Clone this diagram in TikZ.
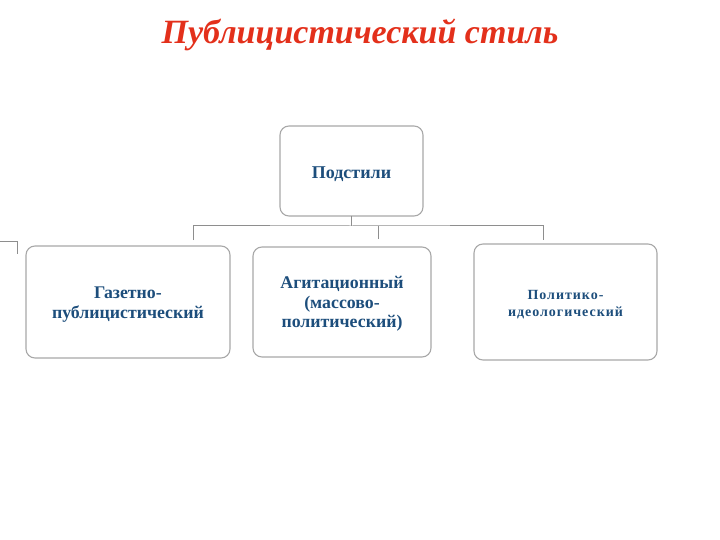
\documentclass[tikz,border=0pt]{standalone}
\usepackage{fontspec}
\setmainfont{Liberation Serif}
\definecolor{titlered}{HTML}{E3301B}
\definecolor{txtblue}{HTML}{1D4E7C}
\definecolor{boxgray}{HTML}{A8A8A8}
\definecolor{linegray}{HTML}{8E8E8E}
\begin{document}
\begin{tikzpicture}[x=1pt,y=-1pt,
  box/.style={draw=boxgray,line width=1.1pt,rounded corners=9pt,fill=white,inner sep=0pt},
  lbl/.style={text=txtblue,align=center},
  conn/.style={draw=linegray,line width=1pt}]
\useasboundingbox (0,0) rectangle (720,540);
\node[font=\fontsize{34}{40}\selectfont\bfseries\itshape,text=titlered] (title) at (360,35) {Публицистический стиль};
% boxes
\draw[box] (280,126) rectangle (423,216);
\node[lbl,font=\fontsize{18}{20}\selectfont\bfseries] (sub) at (351.5,174) {Подстили};
\draw[box] (26,246) rectangle (230,358);
\node[lbl,font=\fontsize{17.8}{20}\selectfont\bfseries] (b1) at (128,304.5) {Газетно-\\публицистический};
\draw[box] (253,247) rectangle (431,357);
\node[lbl,font=\fontsize{17.8}{19.5}\selectfont\bfseries] (b2) at (342,304) {Агитационный\\(массово-\\политический)};
\draw[box] (474,244) rectangle (657,360);
\node[lbl,font=\fontsize{14}{17}\selectfont\bfseries,text width=176pt] (b3) at (565.5,304.5) {\addfontfeatures{LetterSpace=7}Политико-\\\addfontfeatures{LetterSpace=7}идеологический};
% connectors
\coordinate (top) at (351,216);
\coordinate (mid) at (351,226);
\coordinate (l) at (193,240);
\coordinate (m) at (378,239);
\coordinate (r) at (543,240);
\draw[conn] (top) -- (mid);
\draw[conn] (l) |- (mid) -| (r);
\draw[conn] (m) -- (m |- mid);
% stray fragment
\coordinate (s1) at (0,241);
\coordinate (s2) at (17,254);
\draw[conn] (s1) -| (s2);
\end{tikzpicture}
\end{document}
